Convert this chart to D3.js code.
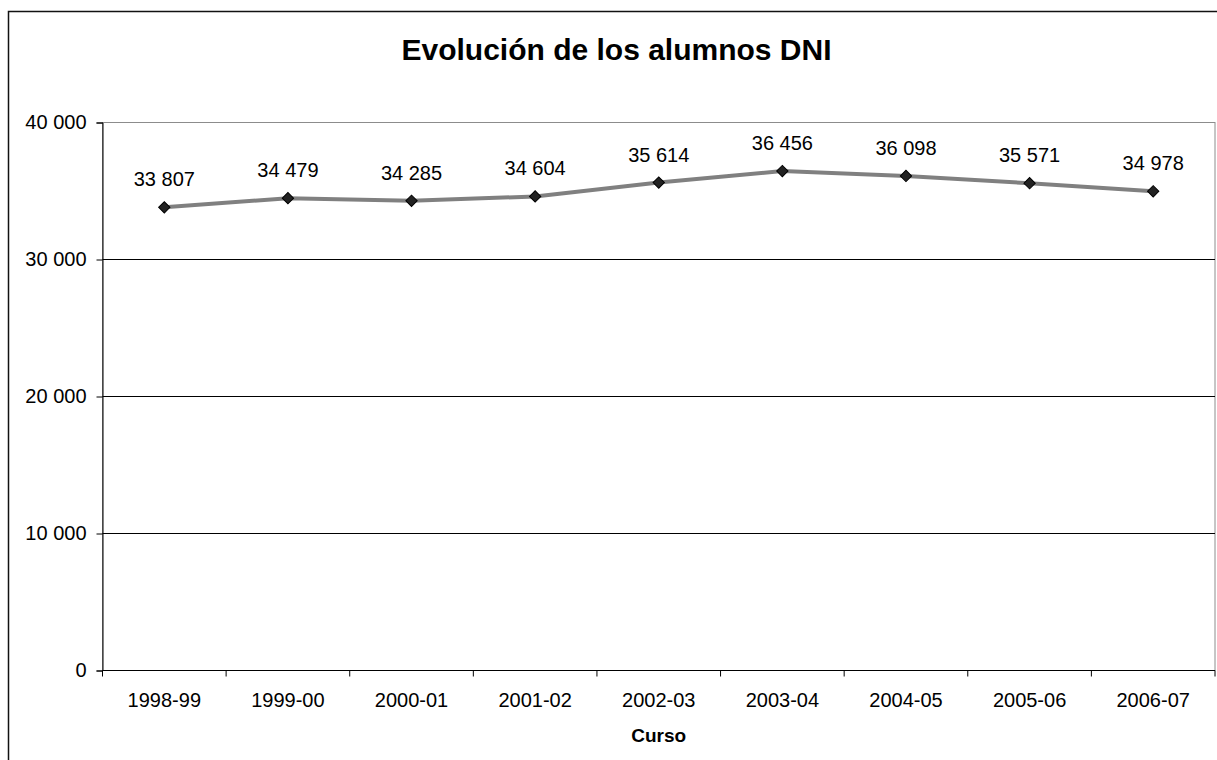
<!DOCTYPE html>
<html>
<head>
<meta charset="utf-8">
<script src="https://cdn.jsdelivr.net/npm/d3@7"></script>
<style>
  body { margin: 0; background: #fff; }
  svg { display: block; font-family: "Liberation Sans", Arial, sans-serif; }
</style>
</head>
<body>
<div id="chart"></div>
<script>
// Data
const cursos = ["1998-99", "1999-00", "2000-01", "2001-02", "2002-03", "2003-04", "2004-05", "2005-06", "2006-07"];
const alumnos = [33807, 34479, 34285, 34604, 35614, 36456, 36098, 35571, 34978];
const yTicks = [0, 10000, 20000, 30000, 40000];

const width = 1217, height = 760;
const margin = {top: 122.5, bottom: 89.5, left: 102.5, right: 2};

const svg = d3.select("#chart")
    .append("svg")
    .attr("width", width)
    .attr("height", height);

// outer chart border (runs off the right/bottom edge like the original)
svg.append("rect")
    .attr("x", 8.5)
    .attr("y", 11.5)
    .attr("width", 1230)
    .attr("height", 780)
    .attr("fill", "none")
    .attr("stroke", "#111")
    .attr("stroke-width", 1.5);

const fmt = d => d3.format(",")(d).replace(/,/g, " ");

// scales
const xScale = d3.scaleBand()
    .domain(cursos)
    .range([margin.left, width - margin.right]);

const yScale = d3.scaleLinear()
    .domain([0, 40000])
    .range([height - margin.bottom, margin.top]);

// plot area frame
svg.append("rect")
    .attr("x", margin.left)
    .attr("y", yScale(40000))
    .attr("width", xScale.range()[1] - margin.left)
    .attr("height", yScale(0) - yScale(40000))
    .attr("fill", "none")
    .attr("stroke", "#8c8c8c")
    .attr("stroke-width", 1);

// gridlines
svg.selectAll(".grid")
    .data(yTicks.filter(d => d > 0 && d < 40000))
    .enter().append("line")
    .attr("x1", margin.left)
    .attr("x2", xScale.range()[1])
    .attr("y1", d => yScale(d))
    .attr("y2", d => yScale(d))
    .attr("stroke", "#000")
    .attr("stroke-width", 1);

// y axis
const yAxis = svg.append("g")
    .attr("transform", `translate(${margin.left},0)`)
    .call(d3.axisLeft(yScale).tickValues(yTicks).tickSize(6).tickPadding(10).tickFormat(fmt));
yAxis.select(".domain").attr("stroke", "#000");
yAxis.selectAll("text").style("font-size", "20px").attr("fill", "#000");

// x axis (labels centred in bands, ticks on band edges)
const xAxis = svg.append("g")
    .attr("transform", `translate(0,${yScale(0)})`)
    .call(d3.axisBottom(xScale).tickSize(0).tickPadding(22));
xAxis.select(".domain").remove();
xAxis.selectAll("text").style("font-size", "20px").attr("fill", "#000");

svg.append("line")
    .attr("x1", margin.left)
    .attr("x2", xScale.range()[1])
    .attr("y1", yScale(0))
    .attr("y2", yScale(0))
    .attr("stroke", "#000");

const edges = cursos.map(c => xScale(c)).concat([xScale.range()[1]]);
svg.selectAll(".xtick")
    .data(edges)
    .enter().append("line")
    .attr("x1", d => d)
    .attr("x2", d => d)
    .attr("y1", yScale(0))
    .attr("y2", yScale(0) + 6)
    .attr("stroke", "#000");

// line
const line = d3.line()
    .x((d, i) => xScale(cursos[i]) + xScale.bandwidth() / 2)
    .y(d => yScale(d));

svg.append("path")
    .datum(alumnos)
    .attr("d", line)
    .attr("fill", "none")
    .attr("stroke", "#808080")
    .attr("stroke-width", 4);

// diamond markers
svg.selectAll(".marker")
    .data(alumnos)
    .enter().append("path")
    .attr("d", d3.symbol().type(d3.symbolSquare).size(64))
    .attr("transform", (d, i) => `translate(${xScale(cursos[i]) + xScale.bandwidth() / 2},${yScale(d)}) rotate(45)`)
    .attr("fill", "#222")
    .attr("stroke", "#000")
    .attr("stroke-width", 1);

// data labels
svg.selectAll(".label")
    .data(alumnos)
    .enter().append("text")
    .attr("x", (d, i) => xScale(cursos[i]) + xScale.bandwidth() / 2)
    .attr("y", d => yScale(d) - 21)
    .style("text-anchor", "middle")
    .style("font-size", "20px")
    .text(fmt);

// title
svg.append("text")
    .attr("x", 616.5)
    .attr("y", 60)
    .style("text-anchor", "middle")
    .style("font-size", "30px")
    .style("font-weight", "bold")
    .text("Evolución de los alumnos DNI");

// x axis label
svg.append("text")
    .attr("x", (margin.left + xScale.range()[1]) / 2)
    .attr("y", 742)
    .style("text-anchor", "middle")
    .style("font-size", "19px")
    .style("font-weight", "bold")
    .text("Curso");
</script>
</body>
</html>
